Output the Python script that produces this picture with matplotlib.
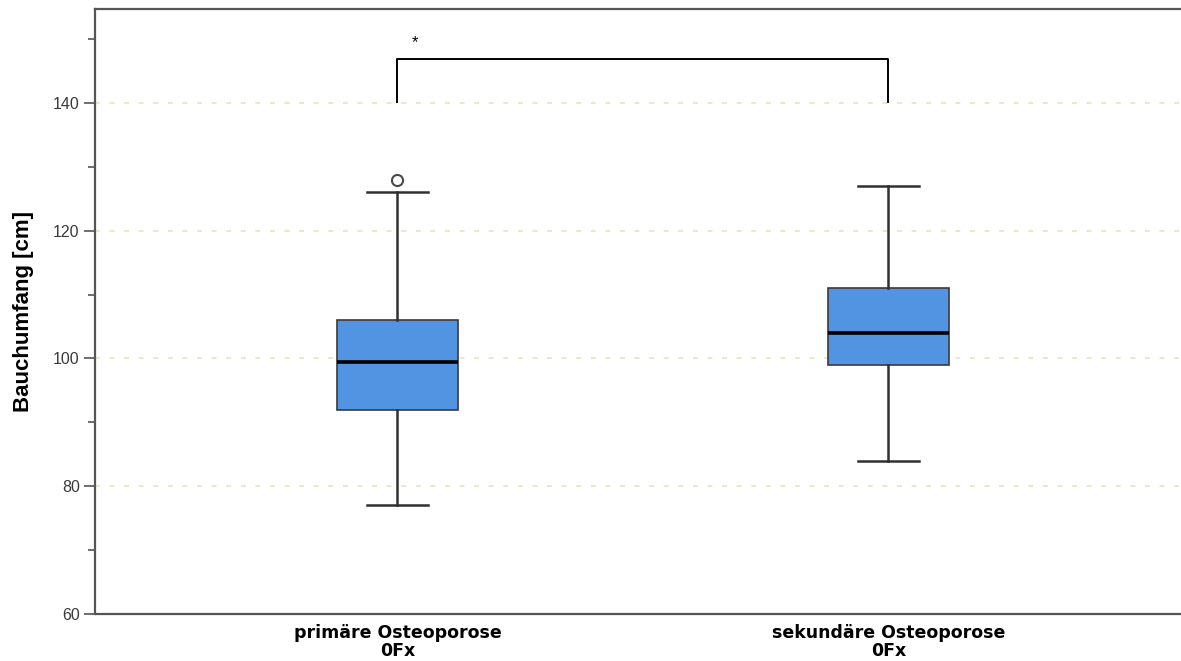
import matplotlib
matplotlib.use("Agg")
import matplotlib.pyplot as plt
from matplotlib.ticker import MultipleLocator

plt.rcParams["font.family"] = ["Liberation Sans", "DejaVu Sans"]

# Kennwerte der beiden Gruppen (Bauchumfang in cm)
groups = ["primäre Osteoporose\n0Fx", "sekundäre Osteoporose\n0Fx"]
whisker_low = [77, 84]
q1 = [92, 99]
median = [99.5, 104]
q3 = [106, 111]
whisker_high = [126, 127]
outliers = [[128], []]

# Signifikanzklammer
bracket_y = 146.8
bracket_leg = 140.1
sig_label = "*"

box_color = "#5293e2"
edge_color = "#3a3a3a"

stats = []
for i, name in enumerate(groups):
    stats.append({
        "label": name,
        "whislo": whisker_low[i], "q1": q1[i], "med": median[i],
        "q3": q3[i], "whishi": whisker_high[i], "fliers": outliers[i],
    })

fig = plt.figure(figsize=(11.81, 6.61), dpi=100)
ax = fig.add_axes([95 / 1181, 47 / 661, 1 - 95 / 1181 + 0.01, 605 / 661])

positions = [1, 2]
ax.bxp(
    stats, positions=positions, widths=0.245, capwidths=0.125,
    patch_artist=True, showfliers=True,
    boxprops=dict(facecolor=box_color, edgecolor=edge_color, linewidth=1.2),
    medianprops=dict(color="black", linewidth=2.6),
    whiskerprops=dict(color="#303030", linewidth=1.8),
    capprops=dict(color="#303030", linewidth=1.8),
    flierprops=dict(marker="o", markersize=8, markerfacecolor="white",
                    markeredgecolor="#4a4a4a", markeredgewidth=1.5),
    zorder=3,
)

# Klammer zwischen den Gruppen
x0, x1 = positions
ax.plot([x0, x0, x1, x1], [bracket_leg, bracket_y, bracket_y, bracket_leg],
        color="black", linewidth=1.4, zorder=3)
ax.text(x0 + 0.035, bracket_y + 1.5, sig_label, ha="center", va="bottom",
        fontsize=12, color="black")

ax.set_xlim(0.384, 2.62)
ax.set_ylim(60, 154.7)

ax.yaxis.set_major_locator(MultipleLocator(20))
ax.yaxis.set_minor_locator(MultipleLocator(10))
ax.grid(axis="y", which="major", color="#ebe6cf", linestyle=(0, (2.5, 5)),
        linewidth=1.4, zorder=0)
ax.set_axisbelow(True)

ax.tick_params(axis="y", which="major", length=8, width=1.2, color="#555555",
               labelsize=11.5, labelcolor="#3a3a3a", pad=3)
ax.tick_params(axis="y", which="minor", length=5, width=1.2, color="#555555")
ax.tick_params(axis="x", length=0, pad=7)
for lbl in ax.get_xticklabels():
    lbl.set_family(["DejaVu Sans"])
    lbl.set_fontweight("bold")
    lbl.set_fontsize(12.5)
    lbl.set_linespacing(1.05)

for side in ("left", "bottom", "top"):
    ax.spines[side].set_color("#555555")
    ax.spines[side].set_linewidth(1.6)
ax.spines["right"].set_visible(False)

ax.set_ylabel("Bauchumfang [cm]", fontsize=16, fontweight="bold", labelpad=14)

fig.savefig("out.png", dpi=100)
